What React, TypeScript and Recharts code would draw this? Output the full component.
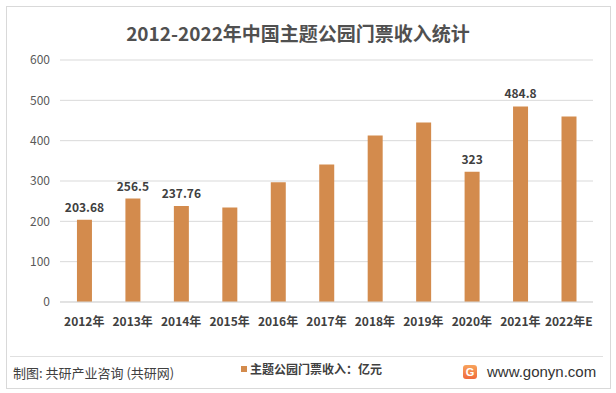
import React from 'react';
import { BarChart, Bar, XAxis, YAxis, CartesianGrid, LabelList } from 'recharts';

const years = ['2012年', '2013年', '2014年', '2015年', '2016年', '2017年', '2018年', '2019年', '2020年', '2021年', '2022年E'];
const revenue = [203.68, 256.5, 237.76, 234, 297, 341, 413, 445, 323, 484.8, 460];
const shownLabels = ['203.68', '256.5', '237.76', '', '', '', '', '', '323', '484.8', ''];
const yTicks = [0, 100, 200, 300, 400, 500, 600];

const data = years.map((year, i) => ({ year, value: revenue[i], label: shownLabels[i] }));

const font = "'Noto Sans CJK SC', 'Noto Sans', sans-serif";
const barColor = '#D38B4D';

export default function App() {
  return (
    <div style={{ position: 'absolute', left: 0, top: 0, width: 616, height: 393, background: '#fff', fontFamily: font }}>
      <div style={{ position: 'absolute', left: 6, top: 6, width: 603, height: 381, border: '1px solid #d9d9d9' }} />
      <div style={{ position: 'absolute', left: 0, width: 596, top: 21, textAlign: 'center', fontSize: 19, fontWeight: 700, color: '#505050', lineHeight: '24px' }}>
        2012-2022年中国主题公园门票收入统计
      </div>
      <div style={{ position: 'absolute', left: 0, top: 0 }}>
        <BarChart width={616} height={340} data={data} margin={{ top: 60, right: 23, bottom: 8, left: 0 }} barCategoryGap="35%">
          <CartesianGrid vertical={false} stroke="#d9d9d9" />
          <XAxis
            dataKey="year"
            height={30}
            axisLine={{ stroke: '#d9d9d9' }}
            tickLine={false}
            tickMargin={9}
            interval={0}
            tick={{ fontSize: 12, fill: '#404040', fontWeight: 700, fontFamily: font }}
          />
          <YAxis
            width={60}
            domain={[0, 600]}
            ticks={yTicks}
            axisLine={false}
            tickLine={false}
            tickMargin={4}
            tick={{ fontSize: 12, fill: '#595959', fontFamily: font }}
          />
          <Bar dataKey="value" fill={barColor} isAnimationActive={false}>
            <LabelList dataKey="label" position="top" offset={8} style={{ fontSize: 12, fontWeight: 700, fill: '#404040', fontFamily: font }} />
          </Bar>
        </BarChart>
      </div>
      <div style={{ position: 'absolute', left: 10, top: 356, width: 593, borderTop: '1px solid #e0e0e0' }} />
      <div style={{ position: 'absolute', left: 13, top: 364, fontSize: 13, color: '#404040', lineHeight: '18px' }}>
        制图: 共研产业咨询 (共研网)
      </div>
      <div style={{ position: 'absolute', left: 241, top: 360, fontSize: 12, fontWeight: 700, color: '#404040', lineHeight: '18px', display: 'flex', alignItems: 'center' }}>
        <span style={{ display: 'inline-block', width: 6, height: 6, background: barColor, marginRight: 3 }} />
        主题公园门票收入：亿元
      </div>
      <div style={{ position: 'absolute', left: 463, top: 363, display: 'flex', alignItems: 'center' }}>
        <span style={{ display: 'inline-block', width: 14, height: 14, borderRadius: 3, background: 'linear-gradient(#f7a35c, #f06a3c)', color: '#fff', fontSize: 11, fontWeight: 700, lineHeight: '14px', textAlign: 'center', marginRight: 10, fontFamily: 'Arial, sans-serif' }}>G</span>
        <span style={{ fontSize: 15, color: '#333', fontFamily: "'Liberation Sans', Arial, sans-serif" }}>www.gonyn.com</span>
      </div>
    </div>
  );
}
